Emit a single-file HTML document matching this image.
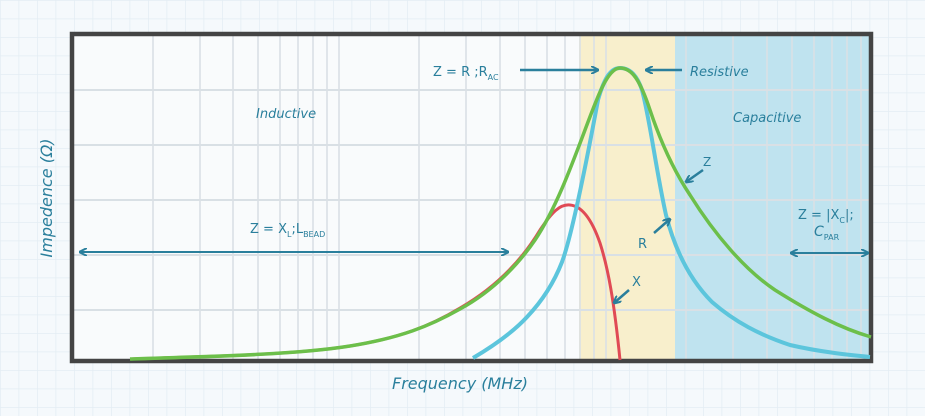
<!DOCTYPE html>
<html><head><meta charset="utf-8"><style>
html,body{margin:0;padding:0;width:925px;height:416px;overflow:hidden;background:#f5f9fc}
svg{display:block}
text{font-family:"DejaVu Sans","Liberation Sans",sans-serif;fill:#2a7f9c}
</style></head><body>
<svg width="925" height="416" viewBox="0 0 925 416" xmlns="http://www.w3.org/2000/svg">
<defs>
<pattern id="bg" width="18.5" height="18.5" patternUnits="userSpaceOnUse">
<path d="M0 0H18.5M0 0V18.5" stroke="#e4edf3" stroke-width="1.5" fill="none"/>
</pattern>
<marker id="ah" markerWidth="8" markerHeight="8" refX="7" refY="4" orient="auto" markerUnits="userSpaceOnUse">
<path d="M0 0L8 4L0 8" fill="none" stroke="#2a7f9c" stroke-width="2"/>
</marker>
<marker id="as" markerWidth="8" markerHeight="8" refX="1" refY="4" orient="auto" markerUnits="userSpaceOnUse">
<path d="M8 0L0 4L8 8" fill="none" stroke="#2a7f9c" stroke-width="2"/>
</marker>
</defs>
<rect width="925" height="416" fill="url(#bg)"/>
<rect x="72" y="34" width="799" height="327" fill="#f9fbfc"/>
<rect x="579" y="34" width="96" height="327" fill="#f8efcc"/>
<rect x="675" y="34" width="196" height="327" fill="#bfe3ef"/>
<g stroke="#d9e0e5" stroke-width="2">
<path d="M72 90H871M72 145H871M72 200H871M72 255H871M72 310H871"/>
<path d="M153 34V361M200 34V361M233 34V361M258 34V361M280 34V361M298 34V361M313 34V361M327 34V361M339 34V361
M419 34V361M466 34V361M500 34V361M525 34V361M547 34V361M565 34V361M580 34V361M594 34V361M606 34V361
M686 34V361M733 34V361M767 34V361M792 34V361M814 34V361M832 34V361M847 34V361M861 34V361" stroke-opacity="0.8"/>
</g>
<rect x="72" y="34" width="799" height="327" fill="none" stroke="#444" stroke-width="4.5"/>
<!-- curves -->
<path d="M130 359 C230 356 300 354 350 346 C400 338 430 326 460 308 C500 285 525 255 540 230 C552 212 560 204 570 205 C582 206 592 220 600 243 C608 268 614 300 620 360" fill="none" stroke="#e04a55" stroke-width="3"/>
<path d="M473 358 C495 345 515 330 527 317 C545 298 555 280 562 262 C572 235 585 170 598 100 C605 75 612 68 620 68 C630 68 637 75 642 90 C650 120 656 170 666 215 C675 250 690 280 712 302 C735 322 760 335 790 345 C820 352 850 355 870 357" fill="none" stroke="#5cc5dc" stroke-width="4"/>
<path d="M130 359 C230 356 300 354 350 346 C400 338 430 326 460 309 C495 290 520 262 535 240 C555 210 570 170 585 130 C598 95 608 68 620 68 C632 68 640 80 650 110 C660 140 672 168 690 195 C715 235 745 270 775 290 C810 312 840 328 871 337" fill="none" stroke="#6cbf4a" stroke-width="3.5"/>
<!-- labels -->
<text x="256" y="118" font-size="13" font-style="italic">Inductive</text>
<text x="733" y="122" font-size="13" font-style="italic">Capacitive</text>
<text x="433" y="76" font-size="13">Z = R ;R<tspan font-size="8" dy="4">AC</tspan></text>
<path d="M520 70H598" stroke="#2a7f9c" stroke-width="2.5" marker-end="url(#ah)"/>
<path d="M682 70H646" stroke="#2a7f9c" stroke-width="2.5" marker-end="url(#ah)"/>
<text x="690" y="76" font-size="13" font-style="italic">Resistive</text>
<text x="703" y="166" font-size="12">Z</text>
<path d="M703 170L686 182" stroke="#2a7f9c" stroke-width="2.5" marker-end="url(#ah)"/>
<text x="638" y="248" font-size="13">R</text>
<path d="M654 233L670 219" stroke="#2a7f9c" stroke-width="2.5" marker-end="url(#ah)"/>
<text x="632" y="286" font-size="13">X</text>
<path d="M629 290L614 303" stroke="#2a7f9c" stroke-width="2.5" marker-end="url(#ah)"/>
<text x="250" y="233" font-size="13">Z = X<tspan font-size="8" dy="4">L</tspan><tspan dy="-4">;L</tspan><tspan font-size="8" dy="4">BEAD</tspan></text>
<path d="M80 252H508" stroke="#2a7f9c" stroke-width="2" marker-start="url(#as)" marker-end="url(#ah)"/>
<text x="798" y="219" font-size="13">Z = |X<tspan font-size="8" dy="4">C</tspan><tspan dy="-4">|;</tspan></text>
<text x="814" y="236" font-size="14" font-style="italic">C<tspan font-size="8" dy="4" font-style="normal">PAR</tspan></text>
<path d="M791 253H868" stroke="#2a7f9c" stroke-width="2" marker-start="url(#as)" marker-end="url(#ah)"/>
<text x="392" y="389" font-size="16" font-style="italic">Frequency (MHz)</text>
<text transform="translate(52,198) rotate(-90)" font-size="16" font-style="italic" text-anchor="middle">Impedence (Ω)</text>
</svg>
</body></html>
